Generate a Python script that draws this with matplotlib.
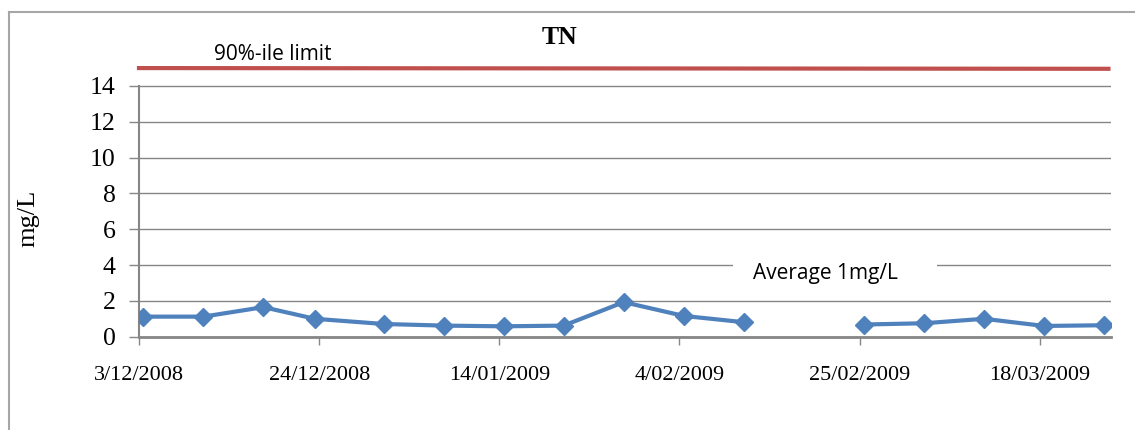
import matplotlib
matplotlib.use('Agg')
import matplotlib.pyplot as plt
import matplotlib.dates as mdates
from matplotlib.patches import Rectangle
from matplotlib.lines import Line2D
import numpy as np
import datetime as dt

# sampling dates (18/02/2009 missing -> gap in the line)
sample_dates = ['2008-12-03', '2008-12-10', '2008-12-17', '2008-12-23', '2008-12-31',
                '2009-01-07', '2009-01-14', '2009-01-21', '2009-01-28', '2009-02-04',
                '2009-02-11', '2009-02-18', '2009-02-25', '2009-03-04', '2009-03-11',
                '2009-03-18', '2009-03-25']
tn_values = [1.12, 1.12, 1.65, 1.0, 0.71, 0.62, 0.58, 0.62, 1.93, 1.16,
             0.81, np.nan, 0.68, 0.75, 1.0, 0.6, 0.64]

limit_values = [15.0, 14.96]
limit_dates = ['2008-12-03', '2009-03-26']

tick_dates = ['2008-12-03', '2008-12-24', '2009-01-14', '2009-02-04', '2009-02-25', '2009-03-18']
tick_labels = ['3/12/2008', '24/12/2008', '14/01/2009', '4/02/2009', '25/02/2009', '18/03/2009']


def to_num(s):
    return mdates.date2num(dt.datetime.strptime(s, '%Y-%m-%d'))


x = np.array([to_num(d) for d in sample_dates]) + 0.5
lx = [to_num(d) for d in limit_dates]
tx = [to_num(d) for d in tick_dates]

fig = plt.figure(figsize=(11.35, 4.3), dpi=100)
ax = fig.add_axes([139 / 1135, 93.3 / 430, 972 / 1135, 274 / 430])

grey = '#868686'
ax.set_axisbelow(True)
ax.grid(axis='y', color=grey, lw=1.0)
ax.plot(x, tn_values, color='#4F81BD', lw=3, marker='D', markersize=9, zorder=3)
ax.plot(lx, limit_values, color='#C0504D', lw=3, zorder=3, clip_on=False)

ax.set_xlim(to_num('2008-12-03'), to_num('2009-03-26') + 0.3)
ax.set_ylim(0, 15.3)
ax.set_yticks(range(0, 15, 2))
ax.set_xticks(tx)
ax.set_xticklabels(tick_labels)

for s in ['top', 'right']:
    ax.spines[s].set_visible(False)
ax.spines['left'].set_color(grey)
ax.spines['bottom'].set_color(grey)
ax.spines['left'].set_bounds(0, 14)
ax.spines['left'].set_linewidth(1.5)
ax.spines['bottom'].set_linewidth(2)

ax.tick_params(axis='y', length=7, width=1, color=grey, pad=10,
               labelsize=18.5, labelfontfamily='Liberation Serif')
ax.tick_params(axis='x', length=6, width=1, color=grey, pad=15,
               labelsize=16, labelfontfamily='Liberation Serif')

ax.set_ylabel('mg/L', fontsize=19, family='Liberation Serif')
ax.yaxis.set_label_coords(-0.102, 0.433)

fig.text(560 / 1135, 1 - 37 / 430, 'TN', ha='center', va='center',
         fontsize=18.5, fontweight='bold', family='Liberation Serif')
fig.text(273 / 1135, 1 - 55 / 430, '90%-ile limit', ha='center', va='center',
         fontsize=15, family='Open Sans')

# white box over the gridline behind the annotation
ax.add_patch(Rectangle((733 / 1135, 1 - 287 / 430), 204 / 1135, 30 / 430,
                       transform=fig.transFigure, facecolor='white',
                       edgecolor='none', zorder=2, clip_on=False))
fig.text(825 / 1135, 1 - 273 / 430, 'Average 1mg/L', ha='center', va='center',
         fontsize=15, family='Open Sans', zorder=5)

# chart border (left and top edges visible)
fig.add_artist(Line2D([9 / 1135, 9 / 1135], [0, 1 - 12 / 430], transform=fig.transFigure,
                      color='#A6A6A6', lw=1.5))
fig.add_artist(Line2D([9 / 1135, 1], [1 - 12 / 430, 1 - 12 / 430], transform=fig.transFigure,
                      color='#A6A6A6', lw=1.5))

fig.savefig('out.png', dpi=100)
